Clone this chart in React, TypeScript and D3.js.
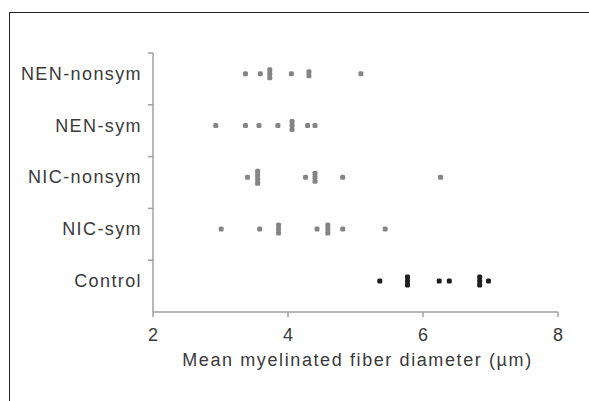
import React from "react";
import * as d3 from "d3";

const categories = ["Control", "NIC-sym", "NIC-nonsym", "NEN-sym", "NEN-nonsym"];
const controlValues = [5.36, 5.77, 5.77, 5.77, 6.24, 6.39, 6.84, 6.84, 6.84, 6.97];
const nicSymValues = [3.01, 3.58, 3.86, 3.86, 3.86, 4.43, 4.59, 4.59, 4.59, 4.81, 5.44];
const nicNonsymValues = [3.4, 3.55, 3.55, 3.55, 3.55, 4.26, 4.4, 4.4, 4.4, 4.81, 6.26];
const nenSymValues = [2.93, 3.37, 3.57, 3.85, 4.06, 4.06, 4.06, 4.29, 4.4];
const nenNonsymValues = [3.37, 3.59, 3.73, 3.73, 3.73, 4.05, 4.31, 4.31, 5.08];
const seriesValues = [controlValues, nicSymValues, nicNonsymValues, nenSymValues, nenNonsymValues];
const xTicks = [2, 4, 6, 8];
const xTitle = "Mean myelinated fiber diameter (µm)";

export default function App() {
  const W = 589, H = 401;
  const x = d3.scaleLinear().domain([2, 8]).range([153, 558]);
  const y = d3.scaleLinear().domain([0, 5]).range([312, 53]);
  const font = "'Liberation Sans', Arial, Helvetica, sans-serif";
  const axisColor = "#a0a0a0";
  const textColor = "#3a3a3a";

  const dots: { cx: number; cy: number; ctrl: boolean; key: string }[] = [];
  seriesValues.forEach((vals, gi) => {
    const counts = d3.rollup(vals, (v) => v.length, (v) => v);
    counts.forEach((n, v) => {
      for (let k = 0; k < n; k++) {
        const off = (k - (n - 1) / 2) * 4;
        dots.push({ cx: x(v), cy: y(gi + 0.6) + off, ctrl: gi === 0, key: `${gi}-${v}-${k}` });
      }
    });
  });

  const s = 5;
  return (
    <svg width={W} height={H} style={{ position: "absolute", left: 0, top: 0, background: "#fff" }}>
      <rect x={9.5} y={12.5} width={700} height={500} fill="#fff" stroke="#222" strokeWidth={1} />
      <line x1={x(2)} x2={x(2)} y1={y(5)} y2={y(0)} stroke={axisColor} strokeWidth={1.5} />
      {d3.range(1, 6).map((t) => (
        <line key={t} x1={x(2) - 5} x2={x(2)} y1={y(t)} y2={y(t)} stroke={axisColor} strokeWidth={1.5} />
      ))}
      <line x1={x(2)} x2={x(8)} y1={y(0)} y2={y(0)} stroke={axisColor} strokeWidth={1.5} />
      {xTicks.map((t) => (
        <g key={t}>
          <line x1={x(t)} x2={x(t)} y1={y(0)} y2={y(0) + 5} stroke={axisColor} strokeWidth={1.5} />
          <text x={x(t)} y={341} textAnchor="middle" fontFamily={font} fontSize={18} fill={textColor}>
            {t}
          </text>
        </g>
      ))}
      <text x={(x(2) + x(8)) / 2 + 2} y={366} textAnchor="middle" fontFamily={font} fontSize={18} letterSpacing={1.6} fill={textColor}>
        {xTitle}
      </text>
      {categories.map((c, i) => (
        <text key={c} x={142} y={y(i + 0.6) + 6} textAnchor="end" fontFamily={font} fontSize={18} letterSpacing={1.4} fill={textColor}>
          {c}
        </text>
      ))}
      {dots.map((d) => (
        <rect key={d.key} x={d.cx - s / 2} y={d.cy - s / 2} width={s} height={s} rx={1.5}
          fill={d.ctrl ? "#1e1e1e" : "#858585"} />
      ))}
    </svg>
  );
}
